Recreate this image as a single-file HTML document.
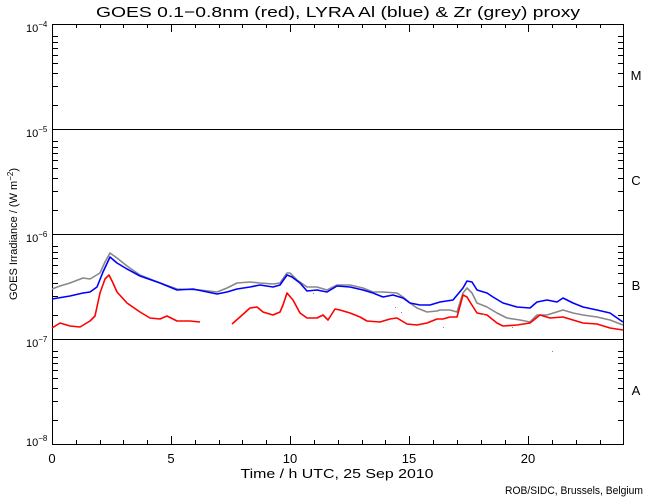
<!DOCTYPE html>
<html><head><meta charset="utf-8"><style>
html,body{margin:0;padding:0;background:#fff;}
svg{display:block;}
text{font-family:"Liberation Sans","DejaVu Sans",sans-serif;fill:#000;}
</style></head><body>
<svg width="650" height="500" viewBox="0 0 650 500" xmlns="http://www.w3.org/2000/svg">
<rect width="650" height="500" fill="#fff"/>
<!-- title -->
<text x="338" y="17" font-size="15" text-anchor="middle" textLength="484" lengthAdjust="spacingAndGlyphs">GOES 0.1−0.8nm (red), LYRA Al (blue) &amp; Zr (grey) proxy</text>

<!-- decade lines -->
<g stroke="#000" stroke-width="1" shape-rendering="crispEdges">
<line x1="52" y1="129.5" x2="624" y2="129.5"/>
<line x1="52" y1="234.5" x2="624" y2="234.5"/>
<line x1="52" y1="339.5" x2="624" y2="339.5"/>
<rect x="52.5" y="24.5" width="571" height="420" fill="none"/>
</g>

<!-- ticks -->
<g id="ticks" stroke="#000" stroke-width="1" shape-rendering="crispEdges">
<!-- y minor ticks (left & right) -->
<path d="
M52 420.5h6M52 401.5h6M52 388.5h6M52 378.5h6M52 370.5h6M52 363.5h6M52 357.5h6M52 351.5h6
M52 315.5h6M52 296.5h6M52 283.5h6M52 273.5h6M52 265.5h6M52 258.5h6M52 252.5h6M52 246.5h6
M52 210.5h6M52 191.5h6M52 178.5h6M52 168.5h6M52 160.5h6M52 153.5h6M52 147.5h6M52 141.5h6
M52 105.5h6M52 86.5h6M52 73.5h6M52 63.5h6M52 55.5h6M52 48.5h6M52 42.5h6M52 36.5h6
M624 420.5h-6M624 401.5h-6M624 388.5h-6M624 378.5h-6M624 370.5h-6M624 363.5h-6M624 357.5h-6M624 351.5h-6
M624 315.5h-6M624 296.5h-6M624 283.5h-6M624 273.5h-6M624 265.5h-6M624 258.5h-6M624 252.5h-6M624 246.5h-6
M624 210.5h-6M624 191.5h-6M624 178.5h-6M624 168.5h-6M624 160.5h-6M624 153.5h-6M624 147.5h-6M624 141.5h-6
M624 105.5h-6M624 86.5h-6M624 73.5h-6M624 63.5h-6M624 55.5h-6M624 48.5h-6M624 42.5h-6M624 36.5h-6
"/>
<!-- x ticks bottom & top -->
<path d="
M76.5 444v-4M100.5 444v-4M123.5 444v-4M147.5 444v-4M171.5 444v-8
M195.5 444v-4M219.5 444v-4M242.5 444v-4M266.5 444v-4M290.5 444v-8
M314.5 444v-4M338.5 444v-4M362.5 444v-4M385.5 444v-4M409.5 444v-8
M433.5 444v-4M457.5 444v-4M481.5 444v-4M505.5 444v-4M528.5 444v-8
M552.5 444v-4M576.5 444v-4M600.5 444v-4
M76.5 24v4M100.5 24v4M123.5 24v4M147.5 24v4M171.5 24v8
M195.5 24v4M219.5 24v4M242.5 24v4M266.5 24v4M290.5 24v8
M314.5 24v4M338.5 24v4M362.5 24v4M385.5 24v4M409.5 24v8
M433.5 24v4M457.5 24v4M481.5 24v4M505.5 24v4M528.5 24v8
M552.5 24v4M576.5 24v4M600.5 24v4
"/>
</g>

<!-- y tick labels -->
<g font-size="11">
<text x="26" y="32">10<tspan font-size="8" dy="-5">−4</tspan></text>
<text x="26" y="137">10<tspan font-size="8" dy="-5">−5</tspan></text>
<text x="26" y="242">10<tspan font-size="8" dy="-5">−6</tspan></text>
<text x="26" y="347">10<tspan font-size="8" dy="-5">−7</tspan></text>
<text x="26" y="446">10<tspan font-size="8" dy="-5">−8</tspan></text>
</g>

<!-- x tick labels -->
<g font-size="13" text-anchor="middle">
<text x="52" y="463">0</text>
<text x="171" y="463">5</text>
<text x="290" y="463">10</text>
<text x="409" y="463">15</text>
<text x="528" y="463">20</text>
</g>
<text x="337" y="478" font-size="13" text-anchor="middle" textLength="193" lengthAdjust="spacingAndGlyphs">Time / h UTC, 25 Sep 2010</text>

<!-- y axis label -->
<text transform="translate(17,234) rotate(-90)" font-size="11" text-anchor="middle">GOES Irradiance / (W m<tspan font-size="8" dy="-4">−2</tspan><tspan dy="4">)</tspan></text>

<!-- class letters -->
<g font-size="13" text-anchor="middle">
<text x="636" y="80">M</text>
<text x="636" y="185">C</text>
<text x="636" y="290">B</text>
<text x="636" y="395">A</text>
</g>

<text x="643" y="494" font-size="11" text-anchor="end" textLength="138" lengthAdjust="spacingAndGlyphs">ROB/SIDC, Brussels, Belgium</text>

<!-- series -->
<g fill="none" stroke-width="1.6" stroke-linejoin="round">
<polyline stroke="#888888" points="52,289 60,286 70,283 83,278 90,279 100,273 105,262 110,253 117,258 127,266 140,275 160,283 177,289 200,290 217,292 227,288 237,283 250,282 260,283 273,284 280,283 287,273 290,273 297,280 307,287 317,287 327,290 337,285 350,285 363,288 373,292 383,292 397,293 403,297 410,303 417,308 427,312 437,311 440,310 450,310 457,312 463,293 467,288 472,293 477,303 487,307 497,313 507,318 520,320 530,322 537,315 547,315 563,310 573,313 583,315 597,317 610,320 623,325"/>
<polyline stroke="#0000ff" points="52,299 70,296 83,293 90,292 97,287 103,272 110,257 117,263 127,269 140,276 160,283 177,290 193,289 217,294 227,292 237,289 250,287 260,285 273,287 280,285 287,275 292,277 300,283 307,291 317,290 327,292 337,286 350,287 363,290 373,293 383,297 393,295 403,298 410,303 420,305 430,305 440,302 453,300 463,288 467,281 472,282 477,290 487,293 493,297 503,303 517,307 530,308 537,302 547,300 557,302 563,298 573,303 583,307 597,310 610,313 620,320 623,322"/>
<polyline stroke="#ff0000" points="52,328 60,323 70,326 80,327 90,321 95,316 100,293 105,279 109,275 113,283 117,292 127,303 140,312 150,318 160,319 167,316 177,321 190,321 200,322"/>
<polyline stroke="#ff0000" points="232,324 240,317 250,308 257,307 263,312 273,315 280,312 283,305 287,293 293,300 300,313 307,318 317,318 323,315 328,320 335,309 340,310 350,313 360,317 367,321 380,322 390,319 397,318 407,324 417,325 427,323 437,319 443,319 450,317 457,317 463,295 467,297 470,302 477,313 487,315 497,323 503,326 517,325 530,323 540,315 550,318 563,317 573,320 583,323 597,324 610,328 623,330"/>
</g>
<!-- scattered grey dots -->
<g fill="#888">
<rect x="443" y="327" width="1" height="1"/><rect x="512" y="327" width="1" height="1"/>
<rect x="552" y="351" width="1" height="1"/><rect x="483" y="314" width="1" height="1"/>
<rect x="401" y="312" width="1" height="1"/><rect x="395" y="307" width="1" height="1"/>
<rect x="302" y="283" width="1" height="1"/><rect x="313" y="293" width="1" height="1"/>
</g>
</svg>
</body></html>
